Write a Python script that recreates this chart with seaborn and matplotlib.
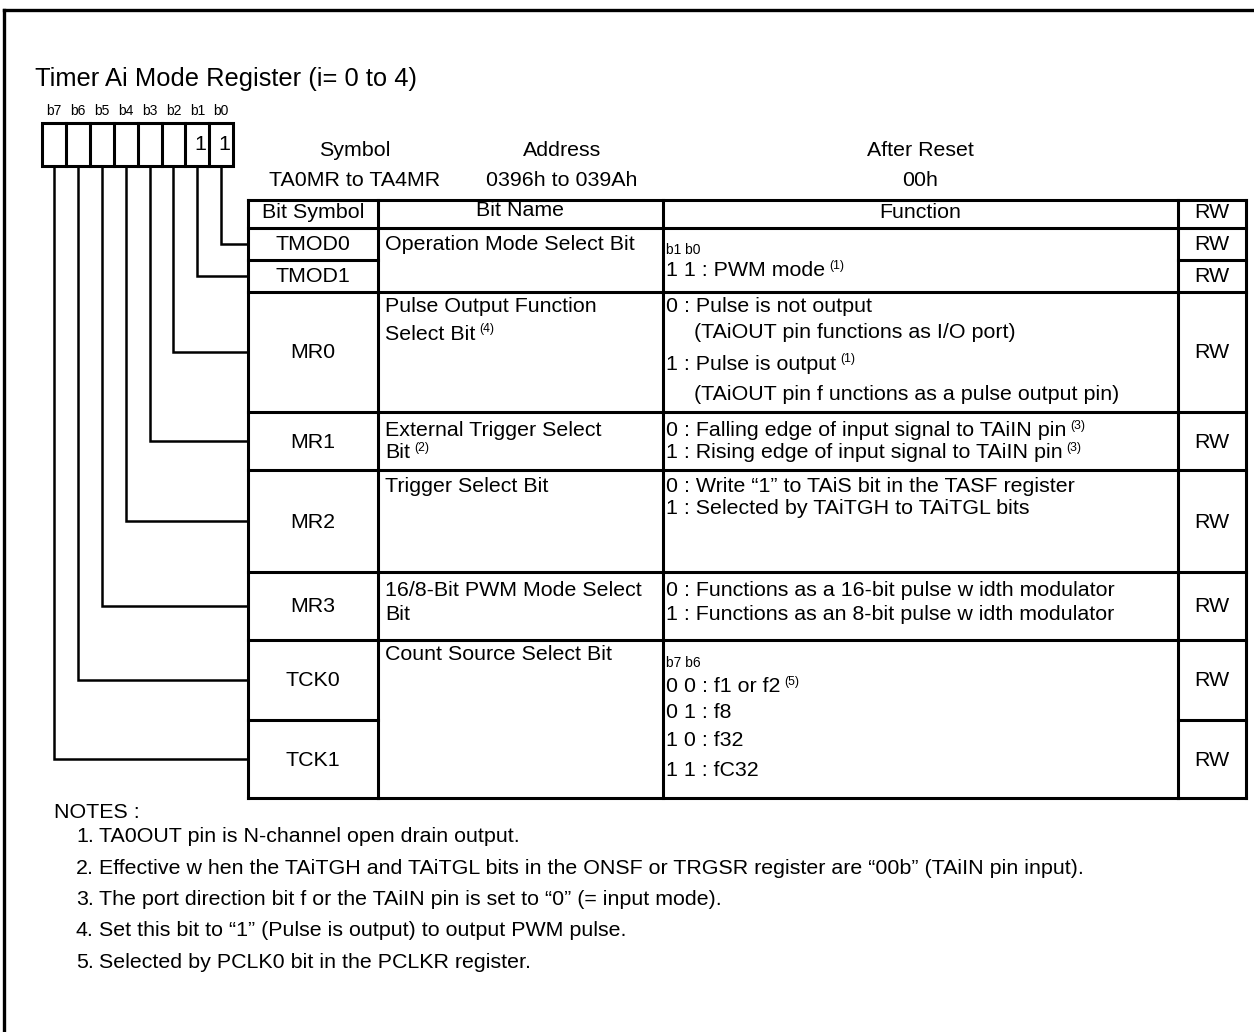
import matplotlib
matplotlib.use("Agg")
import matplotlib.pyplot as plt
import seaborn as sns

# ---------------- data ----------------
title = "Timer Ai Mode Register (i= 0 to 4)"
bit_labels = ["b7", "b6", "b5", "b4", "b3", "b2", "b1", "b0"]
bit_values = ["", "", "", "", "", "", "1", "1"]

header_keys = ["Symbol", "Address", "After Reset"]
header_vals = ["TA0MR to TA4MR", "0396h to 039Ah", "00h"]
col_titles = ["Bit Symbol", "Bit Name", "Function", "RW"]

bit_symbols = ["TMOD0", "TMOD1", "MR0", "MR1", "MR2", "MR3", "TCK0", "TCK1"]
rw_values = ["RW", "RW", "RW", "RW", "RW", "RW", "RW", "RW"]
# which bit (b0..b7) connects to which symbol row
symbol_bits = ["b0", "b1", "b2", "b3", "b4", "b5", "b6", "b7"]

bit_names = [
    [("Operation Mode Select Bit", None)],
    [("Pulse Output Function", None), ("Select Bit", "(4)")],
    [("External Trigger Select", None), ("Bit", "(2)")],
    [("Trigger Select Bit", None)],
    [("16/8-Bit PWM Mode Select", None), ("Bit", None)],
    [("Count Source Select Bit", None)],
]

functions = [
    [("b1 b0", None, "small"), ("1 1 : PWM mode", "(1)", "body")],
    [("0 : Pulse is not output", None, "body"),
     ("(TAiOUT pin functions as I/O port)", None, "indent"),
     ("1 : Pulse is output", "(1)", "body"),
     ("(TAiOUT pin f unctions as a pulse output pin)", None, "indent")],
    [("0 : Falling edge of input signal to TAiIN pin", "(3)", "body"),
     ("1 : Rising edge of input signal to TAiIN pin", "(3)", "body")],
    [("0 : Write \u201c1\u201d to TAiS bit in the TASF register", None, "body"),
     ("1 : Selected by TAiTGH to TAiTGL bits", None, "body")],
    [("0 : Functions as a 16-bit pulse w idth modulator", None, "body"),
     ("1 : Functions as an 8-bit pulse w idth modulator", None, "body")],
    [("b7 b6", None, "small"), ("0 0 : f1 or f2", "(5)", "body"),
     ("0 1 : f8", None, "body"), ("1 0 : f32", None, "body"),
     ("1 1 : fC32", None, "body")],
]

notes_title = "NOTES :"
notes = [
    "TA0OUT pin is N-channel open drain output.",
    "Effective w hen the TAiTGH and TAiTGL bits in the ONSF or TRGSR register are \u201c00b\u201d (TAiIN pin input).",
    "The port direction bit f or the TAiIN pin is set to \u201c0\u201d (= input mode).",
    "Set this bit to \u201c1\u201d (Pulse is output) to output PWM pulse.",
    "Selected by PCLK0 bit in the PCLKR register.",
]

# ---------------- layout (pixels) ----------------
W, H = 1254, 1032
col_x = [248, 378, 663, 1178, 1246]
table_top, head_bot = 200, 228
row_edges = [228, 260, 292, 412, 470, 572, 640, 720, 798]
group_edges = [228, 292, 412, 470, 572, 640, 798]
name_line_y = [[244], [306, 334], [431, 453], [486], [590, 615], [655]]
func_line_y = [[250, 271], [306, 333, 364, 395], [431, 453], [486, 509], [590, 615],
               [663, 687, 712, 741, 770]]
box_x0, box_w, box_y0, box_y1 = 42, 23.9, 123, 166
LW = 2.2
BODY, TITLE, SMALL, SUP = 15.4, 18.4, 10.0, 8.8

sns.set_theme(style="white")
plt.rcParams["font.family"] = ["Liberation Sans", "DejaVu Sans"]
plt.rcParams["text.color"] = "black"

fig = plt.figure(figsize=(W / 100, H / 100), dpi=100)
ax = fig.add_axes([0, 0, 1, 1])
ax.set_xlim(0, W)
ax.set_ylim(H, 0)
ax.axis("off")
renderer = fig.canvas.get_renderer()


def line(x0, y0, x1, y1, lw=LW):
    ax.plot([x0, x1], [y0, y1], color="black", lw=lw, solid_capstyle="projecting")


def put(x, y, s, size=BODY, ha="left", sup=None):
    t = ax.text(x, y, s, fontsize=size, ha=ha, va="center")
    if sup:
        bb = t.get_window_extent(renderer)
        ax.text(bb.x1 + 4, y - 5, sup, fontsize=SUP, ha="left", va="center")
    return t


# outer frame
line(4, 10, W + 5, 10, lw=2.4)
line(4, 10, 4, H + 5, lw=2.4)

# title
put(35, 79, title, size=TITLE)

# bit boxes
for i, (lab, val) in enumerate(zip(bit_labels, bit_values)):
    cx = box_x0 + box_w * (i + 0.5)
    put(cx, 111, lab, size=SMALL, ha="center")
    if val:
        put(cx + 3, 144, val, size=BODY, ha="center")
ax.add_patch(plt.Rectangle((box_x0, box_y0), box_w * 8, box_y1 - box_y0,
                           fill=False, lw=LW, ec="black"))
for i in range(1, 8):
    line(box_x0 + box_w * i, box_y0, box_x0 + box_w * i, box_y1)

# connectors
for k, b in enumerate(symbol_bits):
    i = bit_labels.index(b)
    cx = box_x0 + box_w * (i + 0.5)
    yc = (row_edges[k] + row_edges[k + 1]) / 2
    ax.plot([cx, cx, col_x[0]], [box_y1, yc, yc], color="black", lw=1.8,
            solid_joinstyle="miter")

# header info
hx = [355, 562, 920]
for x, k, v in zip(hx, header_keys, header_vals):
    put(x, 151, k, ha="center")
    put(x, 181, v, ha="center")

# table lines
line(col_x[0], table_top, col_x[-1], table_top)
line(col_x[0], head_bot, col_x[-1], head_bot)
for x in col_x:
    line(x, table_top, x, row_edges[-1])
for y in row_edges[1:]:
    line(col_x[0], y, col_x[1], y)
    line(col_x[3], y, col_x[4], y)
for y in group_edges[1:]:
    line(col_x[1], y, col_x[3], y)

# column titles
for j, t in enumerate(col_titles):
    put((col_x[j] + col_x[j + 1]) / 2, 213 if j != 1 else 211, t, ha="center")

# symbol and RW cells
for k, (s, rw) in enumerate(zip(bit_symbols, rw_values)):
    yc = (row_edges[k] + row_edges[k + 1]) / 2
    put((col_x[0] + col_x[1]) / 2, yc + 1, s, ha="center")
    put((col_x[3] + col_x[4]) / 2, yc + 1, rw, ha="center")

# bit names
for grp, ys in zip(bit_names, name_line_y):
    for (s, sup), y in zip(grp, ys):
        put(col_x[1] + 7, y, s, sup=sup)

# functions
for grp, ys in zip(functions, func_line_y):
    for (s, sup, kind), y in zip(grp, ys):
        if kind == "small":
            put(col_x[2] + 3, y, s, size=SMALL)
        elif kind == "indent":
            put(col_x[2] + 31, y, s, sup=sup)
        else:
            put(col_x[2] + 3, y, s, sup=sup)

# notes
put(54, 812, notes_title)
for i, n in enumerate(notes):
    y = 837 + i * 31.3
    put(76, y, f"{i + 1}.")
    put(99, y, n)

fig.savefig("out.png", dpi=100)
